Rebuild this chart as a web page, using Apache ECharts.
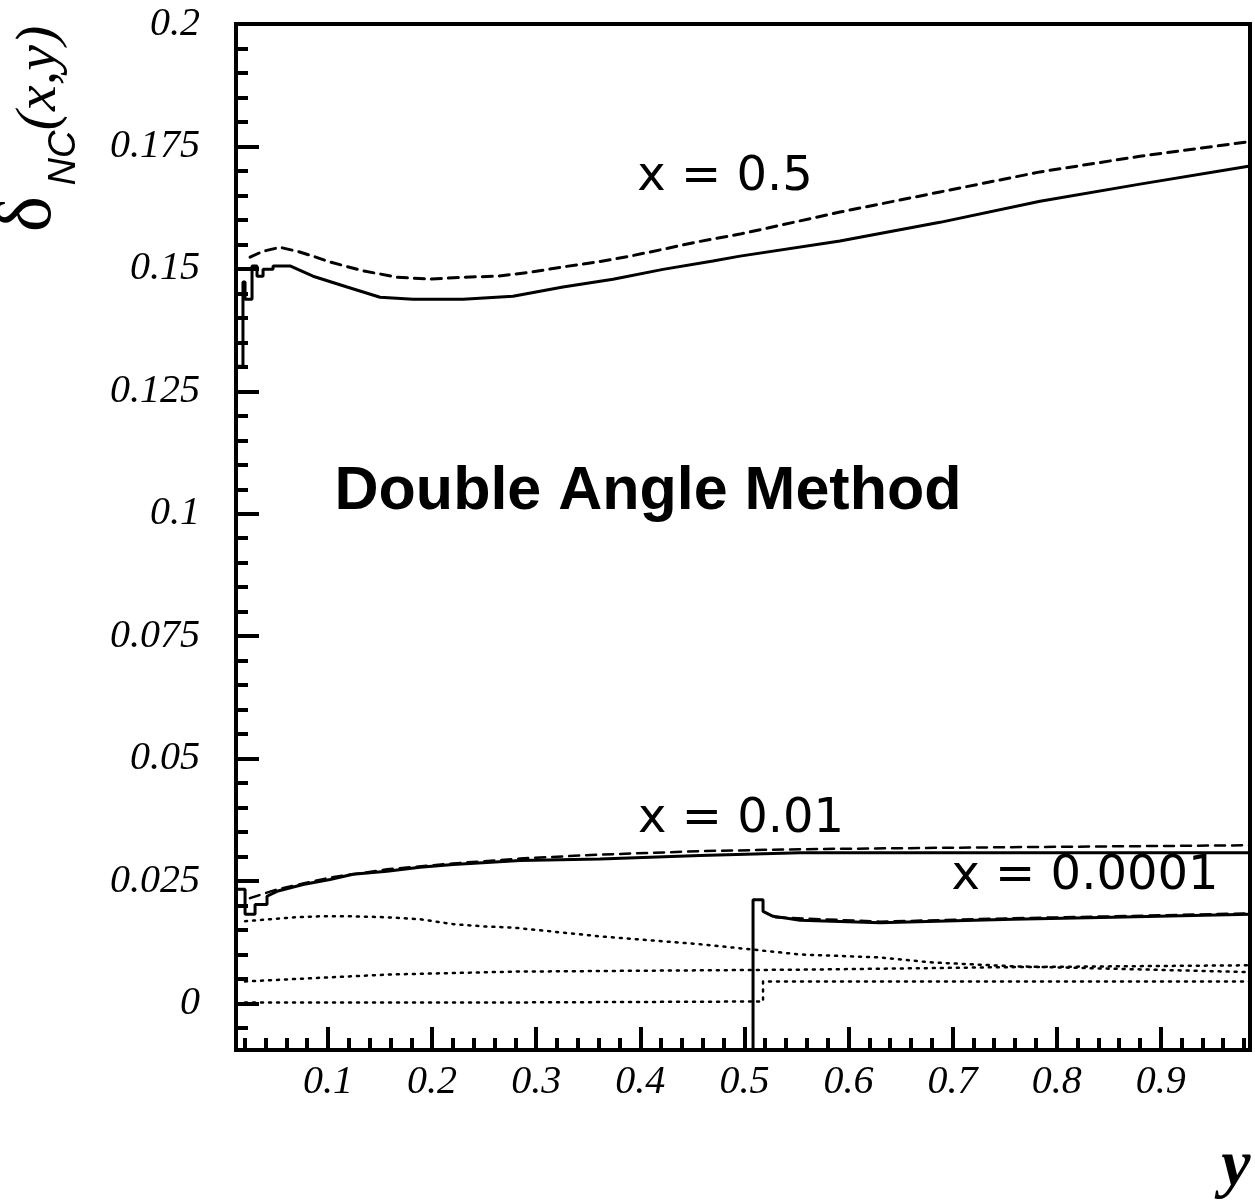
<!DOCTYPE html>
<html>
<head>
<meta charset="utf-8">
<title>delta NC - Double Angle Method</title>
<script src="https://cdn.jsdelivr.net/npm/echarts@6/dist/echarts.min.js"></script>
<style>
  html, body { margin: 0; padding: 0; background: #fff; }
  #chart { width: 1255px; height: 1203px; }
</style>
</head>
<body>
<div id="chart"></div>
<script>
// axis ranges and ticks
var xMin = 0.0116, xMax = 0.9857;
var yMin = -0.0095, yMax = 0.2;
var xMajor = [0.1, 0.2, 0.3, 0.4, 0.5, 0.6, 0.7, 0.8, 0.9];
var yMajor = [0, 0.025, 0.05, 0.075, 0.1, 0.125, 0.15, 0.175, 0.2];

// x = 0.5
var x05Solid = [
  [0.0116, 0.1301], [0.0183, 0.1301], [0.0183, 0.1473], [0.0203, 0.1473],
  [0.0203, 0.1438], [0.0270, 0.1438], [0.0270, 0.1506], [0.0318, 0.1506],
  [0.0318, 0.1485], [0.0376, 0.1485], [0.0376, 0.1499], [0.0472, 0.1499],
  [0.0472, 0.1506], [0.0635, 0.1506], [0.0856, 0.1485], [0.1183, 0.1463],
  [0.1500, 0.1442], [0.1817, 0.1438], [0.2297, 0.1438], [0.2777, 0.1444],
  [0.3257, 0.1463], [0.3738, 0.1479], [0.4218, 0.1499], [0.4698, 0.1516],
  [0.4958, 0.1526], [0.5918, 0.1557], [0.6879, 0.1595], [0.7840, 0.1638],
  [0.8800, 0.1673], [0.9857, 0.1710]
];
var x05Dashed = [
  [0.0251, 0.1524], [0.0376, 0.1536], [0.0539, 0.1544], [0.0702, 0.1536],
  [0.0856, 0.1526], [0.1019, 0.1514], [0.1336, 0.1496], [0.1663, 0.1483],
  [0.1980, 0.1479], [0.2297, 0.1483], [0.2623, 0.1485], [0.2940, 0.1493],
  [0.3257, 0.1504], [0.3584, 0.1514], [0.3901, 0.1526], [0.4218, 0.1540],
  [0.4545, 0.1555], [0.4958, 0.1571], [0.5918, 0.1616], [0.6879, 0.1657],
  [0.7840, 0.1698], [0.8800, 0.1730], [0.9857, 0.1760]
];

// x = 0.01
var x001Solid = [
  [0.0116, 0.0233], [0.0203, 0.0233], [0.0203, 0.0182], [0.0299, 0.0182],
  [0.0299, 0.0202], [0.0414, 0.0202], [0.0414, 0.0219], [0.0510, 0.0229],
  [0.0760, 0.0243], [0.1019, 0.0253], [0.1240, 0.0264], [0.1567, 0.0270],
  [0.1884, 0.0278], [0.2201, 0.0284], [0.2527, 0.0288], [0.2844, 0.0292],
  [0.3613, 0.0295], [0.4574, 0.0302], [0.5534, 0.0308], [0.9857, 0.0308]
];
var x001Dashed = [
  [0.0250, 0.0215], [0.0510, 0.0233], [0.0760, 0.0245], [0.1019, 0.0257],
  [0.1567, 0.0274], [0.2201, 0.0286], [0.2844, 0.0296], [0.3613, 0.0304],
  [0.4574, 0.0311], [0.5534, 0.0315], [0.7455, 0.0319], [0.9857, 0.0323]
];

// x = 0.0001
var x00001Solid = [
  [0.5083, -0.0095], [0.5083, 0.0212], [0.5179, 0.0212], [0.5179, 0.0188],
  [0.5275, 0.0178], [0.5409, 0.0174], [0.5534, 0.0170], [0.6303, 0.0165],
  [0.7580, 0.0172], [0.8541, 0.0176], [0.9857, 0.0182]
];
var x00001Dashed = [
  [0.5300, 0.0176], [0.6303, 0.0167], [0.7580, 0.0174], [0.8541, 0.0178],
  [0.9857, 0.0184]
];

// dotted curves
var dottedA = [
  [0.0203, 0.0168], [0.0683, 0.0176], [0.0923, 0.0178], [0.1240, 0.0178],
  [0.1567, 0.0176], [0.1884, 0.0172], [0.2201, 0.0162], [0.2527, 0.0157],
  [0.2777, 0.0155], [0.3613, 0.0137], [0.4574, 0.0121], [0.5083, 0.0110],
  [0.5534, 0.0100], [0.6303, 0.0094], [0.6783, 0.0084], [0.7580, 0.0076],
  [0.9857, 0.0064]
];
var dottedB = [
  [0.0203, 0.0045], [0.1567, 0.0059], [0.2777, 0.0065], [0.4093, 0.0067],
  [0.5534, 0.0069], [0.7455, 0.0074], [0.9857, 0.0078]
];
var dottedC = [
  [0.0203, 0.0002], [0.2652, 0.0002], [0.5083, 0.0004], [0.5179, 0.0004],
  [0.5179, 0.0045], [0.9857, 0.0045]
];

var xMinor = [];
for (var i = 1; i <= 49; i++) { if (i % 5 !== 0) xMinor.push(+(i * 0.02).toFixed(2)); }
var yMinor = [];
for (var j = -1; j <= 40; j++) { if (j % 5 !== 0) yMinor.push(+(j * 0.005).toFixed(3)); }

var labelFont = { color: '#000', fontFamily: 'Liberation Serif', fontStyle: 'italic', fontSize: 40 };

function line(data, type, width) {
  return {
    type: 'line', data: data, showSymbol: false, symbol: 'none',
    lineStyle: { color: '#000', width: width, type: type, cap: type === 'solid' ? 'butt' : 'round' },
    animation: false, silent: true, z: 3
  };
}

var chart = echarts.init(document.getElementById('chart'));
chart.setOption({
  backgroundColor: '#fff',
  animation: false,
  grid: { left: 236, right: 5, top: 24, bottom: 153, show: true, borderColor: '#000', borderWidth: 4 },
  xAxis: [
    {
      type: 'value', min: xMin, max: xMax, position: 'bottom',
      axisLine: { show: true, onZero: false, lineStyle: { color: '#000', width: 4 } },
      splitLine: { show: false },
      axisTick: { show: true, inside: true, length: 23, customValues: xMajor, lineStyle: { color: '#000', width: 4 } },
      axisLabel: Object.assign({ customValues: xMajor, margin: 12 }, labelFont)
    },
    {
      type: 'value', min: xMin, max: xMax, position: 'bottom',
      axisLine: { show: false, onZero: false },
      splitLine: { show: false },
      axisTick: { show: true, inside: true, length: 12, customValues: xMinor, lineStyle: { color: '#000', width: 4 } },
      axisLabel: { show: false }
    }
  ],
  yAxis: [
    {
      type: 'value', min: yMin, max: yMax, position: 'left',
      axisLine: { show: true, onZero: false, lineStyle: { color: '#000', width: 4 } },
      splitLine: { show: false },
      axisTick: { show: true, inside: true, length: 23, customValues: yMajor, lineStyle: { color: '#000', width: 4 } },
      axisLabel: Object.assign({ customValues: yMajor, margin: 36 }, labelFont)
    },
    {
      type: 'value', min: yMin, max: yMax, position: 'left',
      axisLine: { show: false, onZero: false },
      splitLine: { show: false },
      axisTick: { show: true, inside: true, length: 12, customValues: yMinor, lineStyle: { color: '#000', width: 4 } },
      axisLabel: { show: false }
    }
  ],
  series: [
    line(x05Solid, 'solid', 3),
    line(x05Dashed, [10, 7], 3),
    line(x001Solid, 'solid', 3),
    line(x001Dashed, [10, 7], 2.5),
    line(x00001Solid, 'solid', 3),
    line(x00001Dashed, [10, 7], 2.5),
    line(dottedA, [2, 6], 2.5),
    line(dottedB, [2, 6], 2.5),
    line(dottedC, [2, 6], 2.5)
  ],
  graphic: [
    { type: 'text', x: 648, y: 492, style: { text: 'Double Angle Method', fontFamily: 'Liberation Sans', fontWeight: 'bold', fontSize: 61, fill: '#000', align: 'center', verticalAlign: 'middle' } },
    { type: 'text', x: 725, y: 178, style: { text: 'x = 0.5', fontFamily: 'DejaVu Sans', fontSize: 48, fill: '#000', align: 'center', verticalAlign: 'middle' } },
    { type: 'text', x: 741, y: 820, style: { text: 'x = 0.01', fontFamily: 'DejaVu Sans', fontSize: 48, fill: '#000', align: 'center', verticalAlign: 'middle' } },
    { type: 'text', x: 1085, y: 877, style: { text: 'x = 0.0001', fontFamily: 'DejaVu Sans', fontSize: 48, fill: '#000', align: 'center', verticalAlign: 'middle' } },
    { type: 'text', x: 1236, y: 1168, style: { text: 'y', fontFamily: 'Liberation Serif', fontStyle: 'italic', fontWeight: 'bold', fontSize: 66, fill: '#000', align: 'center', verticalAlign: 'middle' } },
    // y-axis name, rotated
    { type: 'text', x: 30, y: 214, rotation: Math.PI / 2, style: { text: 'δ', fontFamily: 'Liberation Serif', fontSize: 76, fill: '#000', align: 'center', verticalAlign: 'middle' } },
    { type: 'text', x: 64, y: 158, rotation: Math.PI / 2, style: { text: 'NC', fontFamily: 'Liberation Sans', fontStyle: 'italic', fontSize: 38, fill: '#000', align: 'center', verticalAlign: 'middle' } },
    { type: 'text', x: 40, y: 78, rotation: Math.PI / 2, style: { text: '(x,y)', fontFamily: 'Liberation Serif', fontStyle: 'italic', fontSize: 58, fill: '#000', align: 'center', verticalAlign: 'middle' } }
  ]
});
</script>
</body>
</html>
